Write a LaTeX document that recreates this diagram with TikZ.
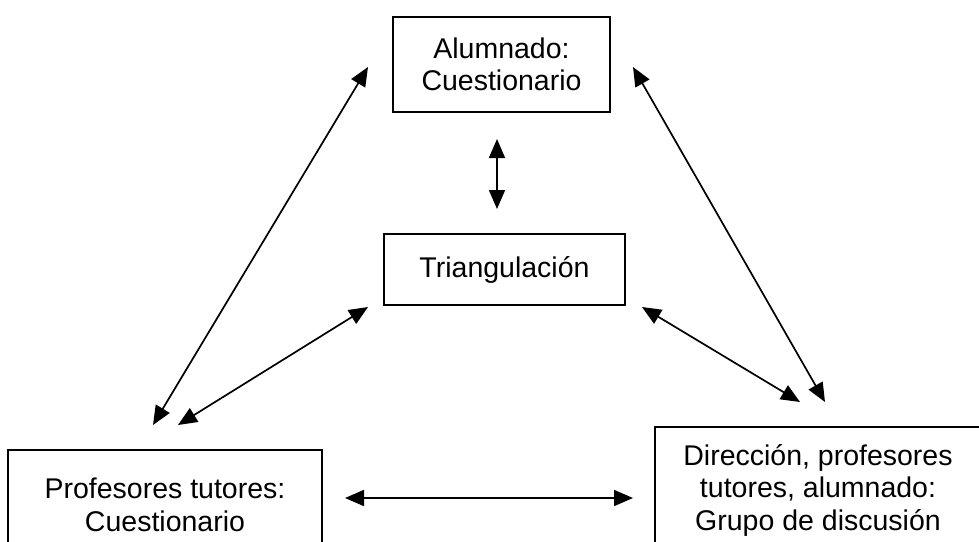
\documentclass[tikz,border=0pt]{standalone}
\usepackage{fontspec}
\setmainfont{Liberation Sans}
\usetikzlibrary{arrows.meta}
\begin{document}
\begin{tikzpicture}[x=1pt,y=-1pt,
  box/.style={draw, line width=1.8pt, align=center, inner sep=0pt,
    font=\fontsize{28.5}{32.5}\selectfont},
  link/.style={line width=1.7pt,
    {Triangle[length=19pt,width=16pt]}-{Triangle[length=19pt,width=16pt]}}]
\useasboundingbox (0,0) rectangle (979,541);
\clip (0,0) rectangle (979,541);
% boxes
\node[box, minimum width=217pt, minimum height=95pt] (alu) at (501.5,64.5) {Alumnado:\\Cuestionario};
\node[box, minimum width=241pt, minimum height=71pt] (tri) at (504.5,269.5) {Triangulación};
\node[box, minimum width=314pt, minimum height=110pt] (prof) at (165,505) {Profesores tutores:\\Cuestionario};
\node[box, minimum width=326pt, minimum height=126pt] (dir) at (818,490) {Dirección, profesores\\tutores, alumnado:\\Grupo de discusión};
% connector ends
\coordinate (aluS) at (497,139);
\coordinate (triN) at (497,209);
\coordinate (aluW) at (368,67);
\coordinate (profNa) at (153,425);
\coordinate (aluE) at (633,67);
\coordinate (dirNa) at (825,402);
\coordinate (triSW) at (368,307);
\coordinate (profNb) at (178,425);
\coordinate (triSE) at (642,307);
\coordinate (dirNb) at (800,402);
\coordinate (profE) at (345,498);
\coordinate (dirW) at (633,498);
% connectors
\draw[link] (aluS) -- (triN);
\draw[link] (aluW) -- (profNa);
\draw[link] (aluE) -- (dirNa);
\draw[link] (triSW) -- (profNb);
\draw[link] (triSE) -- (dirNb);
\draw[link] (profE) -- (dirW);
\end{tikzpicture}
\end{document}
